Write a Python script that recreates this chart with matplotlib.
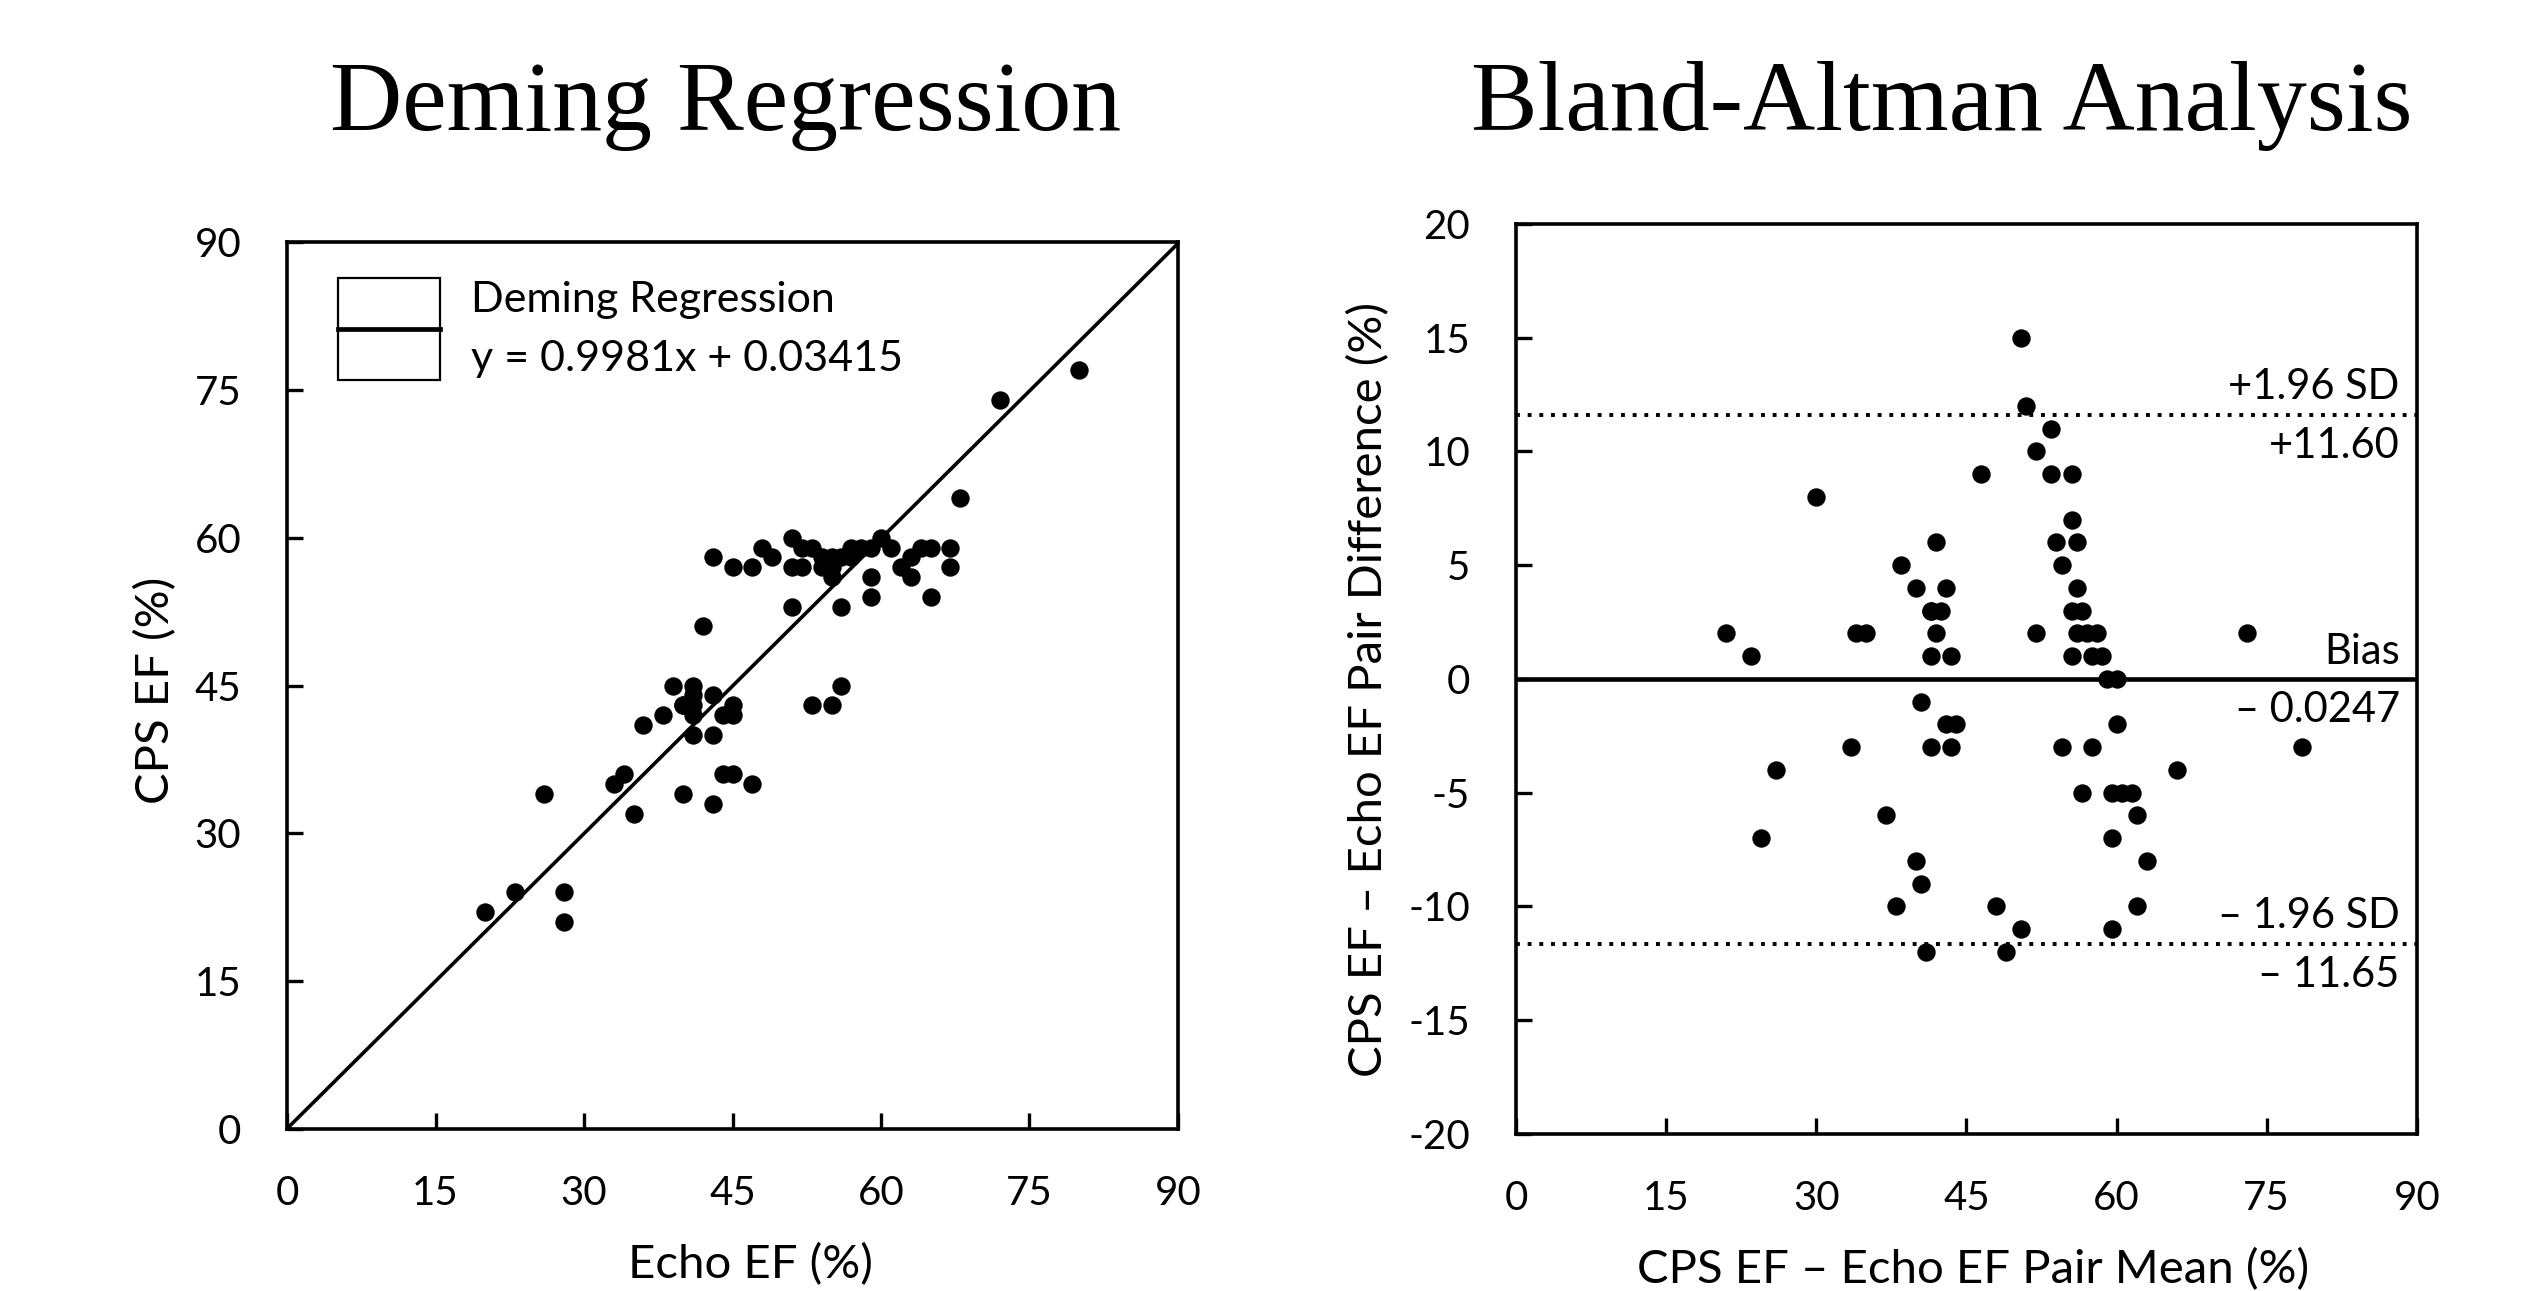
import numpy as np
import matplotlib
matplotlib.use("Agg")
import matplotlib.pyplot as plt
from matplotlib.patches import Rectangle
from matplotlib.lines import Line2D

# paired ejection fraction readings (%), one entry per patient
echo_ef = [20, 23, 26, 28, 28, 33, 34, 35, 36, 38, 39, 40, 40, 40, 41, 41, 41, 41,
           41, 42, 43, 43, 43, 43, 44, 44, 45, 45, 45, 45, 47, 47, 48, 49, 51, 51,
           51, 52, 52, 53, 53, 54, 54, 55, 55, 55, 55, 56, 56, 56, 57, 57, 58, 59,
           59, 59, 60, 61, 62, 63, 63, 64, 65, 65, 67, 67, 68, 72, 80]
cps_ef = [22, 24, 34, 24, 21, 35, 36, 32, 41, 42, 45, 43, 34, 43, 45, 44, 43, 42,
          40, 51, 58, 44, 40, 33, 42, 36, 57, 43, 42, 36, 57, 35, 59, 58, 60, 57,
          53, 59, 57, 59, 43, 58, 57, 58, 57, 56, 43, 58, 53, 45, 59, 58, 59, 59,
          56, 54, 60, 59, 57, 58, 56, 59, 59, 54, 59, 57, 64, 74, 77]

slope, intercept = 0.9981, 0.03415
bias, upper_loa, lower_loa = -0.0247, 11.60, -11.65

ticks_ef = [0, 15, 30, 45, 60, 75, 90]
ticks_diff = [-20, -15, -10, -5, 0, 5, 10, 15, 20]

echo = np.array(echo_ef, dtype=float)
cps = np.array(cps_ef, dtype=float)
pair_mean = (echo + cps) / 2
pair_diff = cps - echo

plt.rcParams['font.family'] = ['Lato', 'DejaVu Sans']
plt.rcParams['axes.unicode_minus'] = False

fig = plt.figure(figsize=(25.47, 12.91), dpi=100)
ax1 = fig.add_axes([0.1127, 0.1255, 0.3498, 0.687])
ax2 = fig.add_axes([0.5952, 0.1216, 0.3537, 0.705])

for ax in (ax1, ax2):
    for side in ['top', 'right', 'left', 'bottom']:
        ax.spines[side].set_linewidth(2.6)
    ax.tick_params(direction='in', length=11.5, width=2.4, labelsize=29, pad=33)

# --- Deming regression ---
ax1.scatter(echo, cps, s=175, color='black', zorder=3, linewidths=0)
xx = np.array([0, 90])
ax1.plot(xx, slope * xx + intercept, color='black', lw=2.6, zorder=2)
ax1.set_xlim(0, 90)
ax1.set_ylim(0, 90)
ax1.set_xticks(ticks_ef)
ax1.set_yticks(ticks_ef)

ax1.set_xlabel('Echo EF (%)', fontsize=34)
ax1.xaxis.set_label_coords(0.52, -0.153)
ax1.xaxis.label.set_va('center')
ax1.set_ylabel('CPS EF (%)', fontsize=34)
ax1.yaxis.set_label_coords(-0.147, 0.495)
ax1.yaxis.label.set_va('center')

# legend box drawn by hand
ax1.add_patch(Rectangle((0.057, 0.844), 0.115, 0.115, transform=ax1.transAxes,
                        fill=False, lw=1.6, ec='black', zorder=4))
ax1.add_line(Line2D([0.057, 0.172], [0.902, 0.902], transform=ax1.transAxes,
                    color='black', lw=3.4, zorder=4))
ax1.text(0.2065, 0.935, 'Deming Regression', transform=ax1.transAxes,
         fontsize=31, va='center', ha='left')
ax1.text(0.2065, 0.868, 'y = 0.9981x + 0.03415', transform=ax1.transAxes,
         fontsize=31, va='center', ha='left')

# --- Bland-Altman ---
ax2.scatter(pair_mean, pair_diff, s=175, color='black', zorder=3, linewidths=0)
ax2.axhline(bias, color='black', lw=3.3, zorder=2)
ax2.axhline(upper_loa, color='black', lw=2.8, ls=(0, (1, 2)), zorder=2)
ax2.axhline(lower_loa, color='black', lw=2.8, ls=(0, (1, 2)), zorder=2)
ax2.set_xlim(0, 90)
ax2.set_ylim(-20, 20)
ax2.set_xticks(ticks_ef)
ax2.set_yticks(ticks_diff)

ax2.set_xlabel('CPS EF \u2013 Echo EF Pair Mean (%)', fontsize=34)
ax2.xaxis.set_label_coords(0.507, -0.149)
ax2.xaxis.label.set_va('center')
ax2.set_ylabel('CPS EF \u2013 Echo EF Pair Difference (%)', fontsize=34)
ax2.yaxis.set_label_coords(-0.163, 0.488)
ax2.yaxis.label.set_va('center')

labels = [(upper_loa, '+1.96 SD', '+11.60'),
          (bias, 'Bias', '\u2013 0.0247'),
          (lower_loa, '\u2013 1.96 SD', '\u2013 11.65')]
for yv, above, below in labels:
    ax2.annotate(above, xy=(0.981, yv), xycoords=('axes fraction', 'data'),
                 xytext=(0, 20), textcoords='offset points',
                 ha='right', va='center', fontsize=30)
    ax2.annotate(below, xy=(0.981, yv), xycoords=('axes fraction', 'data'),
                 xytext=(0, -22), textcoords='offset points',
                 ha='right', va='center', fontsize=30)

# titles
fig.text(0.285, 0.899, 'Deming Regression', family='Liberation Serif',
         fontsize=72, ha='center', va='baseline')
fig.text(0.7625, 0.899, 'Bland-Altman Analysis', family='Liberation Serif',
         fontsize=72, ha='center', va='baseline')

fig.savefig('out.png', dpi=100)
